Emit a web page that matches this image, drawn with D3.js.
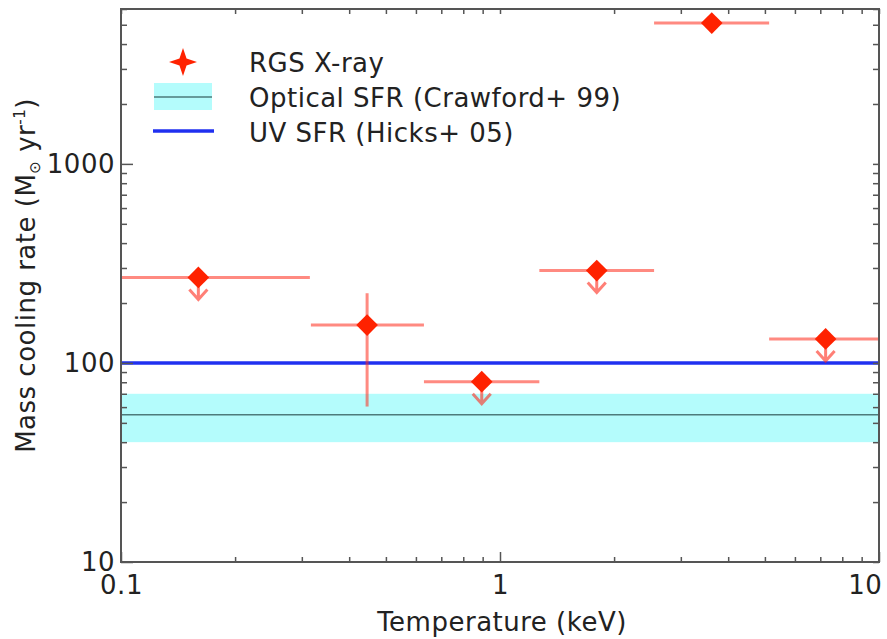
<!DOCTYPE html>
<html>
<head>
    <meta charset="utf-8">
    <title>mass cooling rate</title>
    <script src="https://d3js.org/d3.v7.min.js"></script>
    <style>
        body { margin: 0; background: #fff; }
        text { font-family: "DejaVu Sans", Verdana, sans-serif; fill: #222; letter-spacing: 0.5px; }
    </style>
</head>
<body>
<div id="wrapper"></div>
<script>
    // RGS X-ray bins: temperature (keV), bin edges, mass cooling rate, errors
    const temps   = [0.16, 0.446, 0.895, 1.80, 3.62, 7.23];
    const tempLo  = [0.08, 0.317, 0.63, 1.27, 2.55, 5.13];
    const tempHi  = [0.315, 0.63, 1.27, 2.55, 5.13, 10.5];
    const rates   = [269, 155, 80.5, 291, 5100, 132];
    const rateLo  = [null, 60.4, null, null, null, null];
    const rateHi  = [null, 224, null, null, null, null];
    const isLimit = [true, false, true, true, false, true];

    // star formation rates
    const opticalSFR = [40, 55, 70]; // low, mid, high
    const uvSFR = 100;

    const xMajor = [0.1, 1, 10];
    const xMinor = [0.2, 0.3, 0.4, 0.5, 0.6, 0.7, 0.8, 0.9, 2, 3, 4, 5, 6, 7, 8, 9];
    const yMajor = [10, 100, 1000];
    const yMinor = [20, 30, 40, 50, 60, 70, 80, 90, 200, 300, 400, 500, 600, 700, 800, 900,
                    2000, 3000, 4000, 5000, 6000];

    const legendItems = ["RGS X-ray", "Optical SFR (Crawford+ 99)", "UV SFR (Hicks+ 05)"];

    const dimensions = {
        width: 887,
        height: 639,
        margin: { top: 9, right: 8, bottom: 77, left: 121 }
    };
    dimensions.boundedWidth = dimensions.width - dimensions.margin.left - dimensions.margin.right;
    dimensions.boundedHeight = dimensions.height - dimensions.margin.top - dimensions.margin.bottom;

    const red = "#ff2200";
    const errRed = "#ff2a1a";
    const frameColor = "#555";
    const fontSize = 26;

    const wrapper = d3.select("#wrapper").append("svg")
        .attr("width", dimensions.width).attr("height", dimensions.height);

    wrapper.append("defs").append("clipPath").attr("id", "plotclip")
        .append("rect").attr("width", dimensions.boundedWidth).attr("height", dimensions.boundedHeight);

    const bounds = wrapper.append("g")
        .attr("transform", `translate(${dimensions.margin.left},${dimensions.margin.top})`);

    const xScale = d3.scaleLog().domain([0.1, 10]).range([0, dimensions.boundedWidth]);
    const yScale = d3.scaleLog().domain([10, 6000]).range([dimensions.boundedHeight, 0]);

    const plot = bounds.append("g").attr("clip-path", "url(#plotclip)");

    // optical band
    plot.append("rect")
        .attr("x", 0).attr("width", dimensions.boundedWidth)
        .attr("y", yScale(opticalSFR[2]))
        .attr("height", yScale(opticalSFR[0]) - yScale(opticalSFR[2]))
        .attr("fill", "#b4fcfc");
    plot.append("line")
        .attr("x1", 0).attr("x2", dimensions.boundedWidth)
        .attr("y1", yScale(opticalSFR[1])).attr("y2", yScale(opticalSFR[1]))
        .attr("stroke", "#4d7b7b").attr("stroke-width", 1.5);

    // UV line
    plot.append("line")
        .attr("x1", 0).attr("x2", dimensions.boundedWidth)
        .attr("y1", yScale(uvSFR)).attr("y2", yScale(uvSFR))
        .attr("stroke", "#2030f0").attr("stroke-width", 3.5);

    const points = temps.map((t, i) => ({
        t, lo: tempLo[i], hi: tempHi[i], r: rates[i], rlo: rateLo[i], rhi: rateHi[i], lim: isLimit[i]
    }));

    // horizontal error bars
    plot.selectAll(".xerr").data(points).join("line")
        .attr("x1", d => xScale(d.lo)).attr("x2", d => xScale(d.hi))
        .attr("y1", d => yScale(d.r)).attr("y2", d => yScale(d.r))
        .attr("stroke", errRed).attr("stroke-opacity", 0.55).attr("stroke-width", 3);

    // vertical error bars
    plot.selectAll(".yerr").data(points.filter(d => d.rlo != null)).join("line")
        .attr("x1", d => xScale(d.t)).attr("x2", d => xScale(d.t))
        .attr("y1", d => yScale(d.rhi)).attr("y2", d => yScale(d.rlo))
        .attr("stroke", errRed).attr("stroke-opacity", 0.55).attr("stroke-width", 3);

    // upper limit arrows
    plot.selectAll(".arrow").data(points.filter(d => d.lim)).join("path")
        .attr("transform", d => `translate(${xScale(d.t)},${yScale(d.r)})`)
        .attr("d", "M0,0 L0,22 M-9,12 L0,22 L9,12")
        .attr("fill", "none")
        .attr("stroke", errRed).attr("stroke-opacity", 0.6).attr("stroke-width", 3);

    // diamonds
    plot.selectAll(".pt").data(points).join("path")
        .attr("transform", d => `translate(${xScale(d.t)},${yScale(d.r)}) rotate(45)`)
        .attr("d", d3.symbol(d3.symbolSquare, 235)())
        .attr("fill", red);

    // axes: inward ticks on all four sides
    const tickStyle = g => {
        g.select(".domain").remove();
        g.selectAll(".tick line").attr("stroke", frameColor).attr("stroke-width", 1.5);
    };

    bounds.append("g")
        .call(d3.axisLeft(yScale).tickValues(yMinor).tickSize(-6).tickFormat(""))
        .call(tickStyle);
    const yAxis = bounds.append("g")
        .call(d3.axisLeft(yScale).tickValues(yMajor).tickSize(-12).tickPadding(6).tickFormat(d3.format("d")))
        .call(tickStyle);
    yAxis.selectAll(".tick text").attr("font-size", fontSize).attr("fill", "#222")
        .attr("font-family", "DejaVu Sans, sans-serif");

    bounds.append("g").attr("transform", `translate(${dimensions.boundedWidth},0)`)
        .call(d3.axisRight(yScale).tickValues(yMinor.concat(yMajor)).tickSize(-6).tickFormat(""))
        .call(tickStyle);

    bounds.append("g").attr("transform", `translate(0,${dimensions.boundedHeight})`)
        .call(d3.axisBottom(xScale).tickValues(xMinor).tickSize(-5).tickFormat(""))
        .call(tickStyle);
    const xAxis = bounds.append("g").attr("transform", `translate(0,${dimensions.boundedHeight})`)
        .call(d3.axisBottom(xScale).tickValues(xMajor).tickSize(-10).tickPadding(14)
            .tickFormat(d => d < 1 ? "0.1" : d3.format("d")(d)))
        .call(tickStyle);
    xAxis.selectAll(".tick text").attr("font-size", fontSize).attr("fill", "#222")
        .attr("font-family", "DejaVu Sans, sans-serif");
    xAxis.selectAll(".tick text").filter(d => d === 10).attr("dx", "-0.55em");

    bounds.append("g")
        .call(d3.axisTop(xScale).tickValues(xMinor.concat(xMajor)).tickSize(-5).tickFormat(""))
        .call(tickStyle);

    // frame
    bounds.append("rect")
        .attr("width", dimensions.boundedWidth).attr("height", dimensions.boundedHeight)
        .attr("fill", "none").attr("stroke", frameColor).attr("stroke-width", 2);

    // axis labels
    bounds.append("text")
        .attr("x", dimensions.boundedWidth / 2 + 2)
        .attr("y", dimensions.boundedHeight + 69)
        .attr("text-anchor", "middle")
        .attr("font-size", fontSize)
        .text("Temperature (keV)");

    const yLabel = wrapper.append("text")
        .attr("transform", `translate(35,${dimensions.margin.top + dimensions.boundedHeight / 2 - 10}) rotate(-90)`)
        .attr("text-anchor", "middle")
        .attr("font-size", fontSize);
    yLabel.append("tspan").text("Mass cooling rate (M");
    yLabel.append("tspan").attr("font-size", 15).attr("dy", 5).text("⊙");
    yLabel.append("tspan").attr("dy", -5).text(" yr");
    yLabel.append("tspan").attr("font-size", 15).attr("dy", -10).text("-1");
    yLabel.append("tspan").attr("dy", 10).text(")");

    // legend
    const legend = bounds.append("g").attr("transform", "translate(62,53)");
    const rowH = 35;
    legend.selectAll(".ltext").data(legendItems).join("text")
        .attr("x", 66).attr("y", (d, i) => i * rowH + 10)
        .attr("font-size", fontSize)
        .text(d => d);

    // 4-point star marker
    const star = d3.path();
    const so = 14, si = 5;
    for (let k = 0; k < 8; k++) {
        const ang = k * Math.PI / 4 - Math.PI / 2;
        const rr = k % 2 === 0 ? so : si;
        const px = rr * Math.cos(ang), py = rr * Math.sin(ang);
        if (k === 0) star.moveTo(px, py); else star.lineTo(px, py);
    }
    star.closePath();
    legend.append("path").attr("d", star.toString()).attr("fill", red);

    legend.append("rect")
        .attr("x", -29).attr("y", rowH - 14).attr("width", 58).attr("height", 27)
        .attr("fill", "#b4fcfc");
    legend.append("line")
        .attr("x1", -29).attr("x2", 29).attr("y1", rowH).attr("y2", rowH)
        .attr("stroke", "#4d7b7b").attr("stroke-width", 1.5);
    legend.append("line")
        .attr("x1", -30).attr("x2", 31).attr("y1", rowH * 2 - 1).attr("y2", rowH * 2 - 1)
        .attr("stroke", "#2030f0").attr("stroke-width", 3.5);
</script>
</body>
</html>
